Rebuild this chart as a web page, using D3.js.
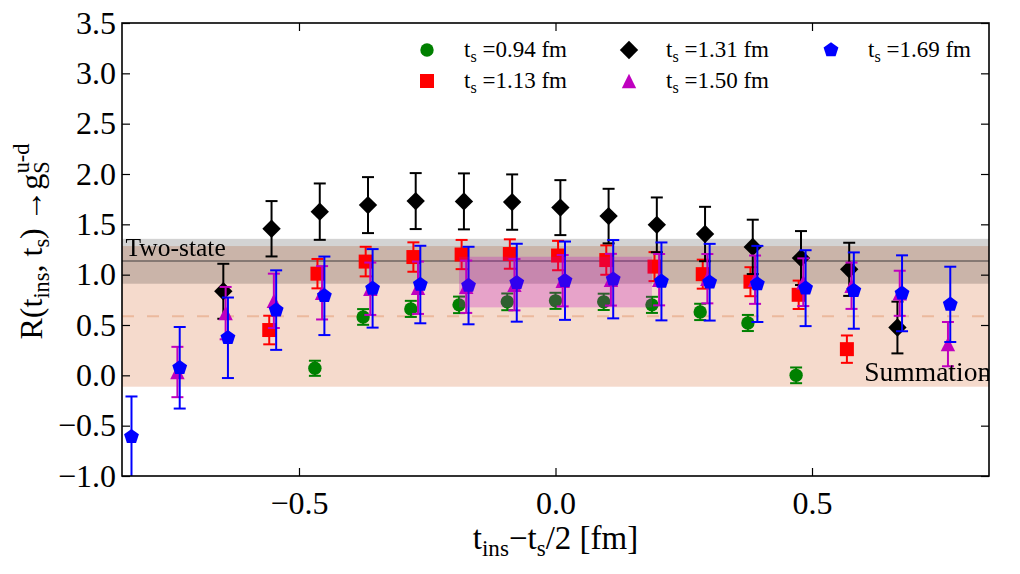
<!DOCTYPE html>
<html>
<head>
<meta charset="utf-8">
<script src="https://cdn.jsdelivr.net/npm/d3@7/dist/d3.min.js"></script>
<style>
body{margin:0;background:#fff}
svg{display:block}
text{font-family:"Liberation Serif",serif;fill:#000}
</style>
</head>
<body>
<svg id="chart" width="1020" height="574"></svg>
<script>
// source separations t_s [fm]
const tsLabels=["0.94","1.13","1.31","1.50","1.69"];

// t_ins - t_s/2 [fm], ratio, error — one set per t_s
const x094=[-0.469,-0.375,-0.282,-0.188,-0.094,0,0.094,0.188,0.282,0.375,0.469];
const y094=[0.07,0.58,0.66,0.70,0.73,0.74,0.73,0.70,0.63,0.52,0.00];
const e094=[0.075,0.078,0.080,0.082,0.083,0.080,0.081,0.080,0.081,0.080,0.078];

const x113=[-0.563,-0.469,-0.375,-0.282,-0.188,-0.094,0,0.094,0.188,0.282,0.375,0.469,0.563];
const y113=[0.45,1.01,1.13,1.175,1.20,1.205,1.19,1.145,1.08,1.005,0.93,0.80,0.26];
const e113=[0.142,0.146,0.147,0.146,0.145,0.146,0.146,0.146,0.144,0.144,0.144,0.141,0.136];

const x131=[-0.657,-0.563,-0.469,-0.375,-0.282,-0.188,-0.094,0,0.094,0.188,0.282,0.375,0.469,0.563,0.657];
const y131=[0.835,1.456,1.626,1.691,1.731,1.728,1.721,1.666,1.582,1.495,1.404,1.276,1.165,1.053,0.475];
const e131=[0.273,0.275,0.280,0.278,0.278,0.278,0.275,0.273,0.271,0.272,0.270,0.270,0.268,0.264,0.257];

const x150=[-0.751,-0.657,-0.563,-0.469,-0.375,-0.282,-0.188,-0.094,0,0.094,0.188,0.282,0.375,0.469,0.563,0.657,0.751];
const y150=[0.033,0.618,0.74,0.82,0.86,0.87,0.88,0.90,0.94,0.95,0.95,0.96,0.95,0.925,0.89,0.815,0.31];
const e150=[0.250,0.260,0.270,0.265,0.260,0.260,0.260,0.255,0.255,0.257,0.255,0.245,0.240,0.237,0.230,0.224,0.220];

const x169=[-0.845,-0.751,-0.657,-0.563,-0.469,-0.375,-0.282,-0.188,-0.094,0,0.094,0.188,0.282,0.375,0.469,0.563,0.657,0.751];
const y169=[-0.61,0.075,0.373,0.648,0.79,0.864,0.902,0.892,0.92,0.94,0.955,0.933,0.925,0.908,0.866,0.842,0.815,0.705];
const e169=[0.400,0.405,0.400,0.395,0.390,0.390,0.385,0.385,0.387,0.389,0.389,0.387,0.381,0.378,0.377,0.379,0.377,0.374];

// fit bands: [low, central, high]
const twoStateBand=[0.91,1.135,1.356];
const summationBand=[-0.113,0.586,1.284];
const plateauX=[-0.188,0.188];
const plateauY=[0.675,1.178];

const xTicks=[-0.5,0,0.5];
const yTicks=[-1,-0.5,0,0.5,1,1.5,2,2.5,3,3.5];

const W=1020,H=574,m={l:122,r:31,t:23,b:98};
const svg=d3.select("#chart");
const x=d3.scaleLinear().domain([-0.845,0.845]).range([m.l,W-m.r]);
const y=d3.scaleLinear().domain([-1,3.5]).range([H-m.b,m.t]);

const colors=["#008000","#ff0000","#000000","#bf00bf","#0000ff"];
const dodge=[0,0.005,0.0095,0.014,0.0185];

const pent=d3.lineRadial().curve(d3.curveLinearClosed)(d3.range(5).map(i=>[i*2*Math.PI/5,7.8]));
const shapes=[
  {d:d3.symbol(d3.symbolCircle,Math.PI*6.7*6.7)(),rot:0},
  {d:d3.symbol(d3.symbolSquare,14*14)(),rot:0},
  {d:d3.symbol(d3.symbolSquare,13*13)(),rot:45},
  {d:"M0,-7.2L7.2,7.2L-7.2,7.2Z",rot:0},
  {d:pent,rot:0}
];

const series=[[x094,y094,e094],[x113,y113,e113],[x131,y131,e131],[x150,y150,e150],[x169,y169,e169]]
  .map((s,i)=>s[0].map((xv,j)=>({x:xv+dodge[i],v:s[1][j],e:s[2][j]})));

svg.append("clipPath").attr("id","plotclip").append("rect")
  .attr("x",m.l).attr("y",m.t).attr("width",W-m.l-m.r).attr("height",H-m.t-m.b);
const plot=svg.append("g").attr("clip-path","url(#plotclip)");

// summation band
plot.append("rect").attr("x",m.l).attr("width",W-m.l-m.r)
  .attr("y",y(summationBand[2])).attr("height",y(summationBand[0])-y(summationBand[2]))
  .attr("fill","#f5dacc");
plot.append("line").attr("x1",m.l).attr("x2",W-m.r)
  .attr("y1",y(summationBand[1])).attr("y2",y(summationBand[1]))
  .attr("stroke","#ebb99d").attr("stroke-width",2).attr("stroke-dasharray","12,13");

// two-state band
plot.append("rect").attr("x",m.l).attr("width",W-m.l-m.r)
  .attr("y",y(twoStateBand[2])).attr("height",y(twoStateBand[0])-y(twoStateBand[2]))
  .attr("fill","#d3d3d3").style("mix-blend-mode","multiply");
plot.append("line").attr("x1",m.l).attr("x2",W-m.r)
  .attr("y1",y(twoStateBand[1])).attr("y2",y(twoStateBand[1]))
  .attr("stroke","#857873").attr("stroke-width",2);

// data points with error bars
series.forEach((pts,i)=>{
  const g=plot.append("g").attr("stroke",colors[i]).attr("fill",colors[i]);
  const eb=g.selectAll("g.eb").data(pts).join("g").attr("class","eb").attr("stroke-width",2);
  eb.append("line").attr("x1",d=>x(d.x)).attr("x2",d=>x(d.x)).attr("y1",d=>y(d.v-d.e)).attr("y2",d=>y(d.v+d.e));
  eb.append("line").attr("x1",d=>x(d.x)-6).attr("x2",d=>x(d.x)+6).attr("y1",d=>y(d.v+d.e)).attr("y2",d=>y(d.v+d.e));
  eb.append("line").attr("x1",d=>x(d.x)-6).attr("x2",d=>x(d.x)+6).attr("y1",d=>y(d.v-d.e)).attr("y2",d=>y(d.v-d.e));
  g.selectAll("path").data(pts).join("path").attr("stroke","none")
    .attr("d",shapes[i].d)
    .attr("transform",d=>`translate(${x(d.x)},${y(d.v)}) rotate(${shapes[i].rot})`);
});

// plateau fit band drawn on top
plot.append("rect").attr("x",x(plateauX[0])).attr("width",x(plateauX[1])-x(plateauX[0]))
  .attr("y",y(plateauY[1])).attr("height",y(plateauY[0])-y(plateauY[1]))
  .attr("fill","#bf00bf").attr("fill-opacity",0.25);

plot.append("text").attr("x",x(-0.838)).attr("y",y(1.185)).attr("font-size",25.5).text("Two-state");
plot.append("text").attr("x",x(0.602)).attr("y",y(-0.054)).attr("font-size",27.5).text("Summation");

// axes
function tidy(g){g.select(".domain").remove();g.selectAll(".tick line").attr("stroke","#000").attr("stroke-width",1.2);}
svg.append("g").attr("transform",`translate(${m.l},0)`)
  .call(d3.axisLeft(y).tickValues(yTicks).tickFormat(d3.format(".1f")).tickSizeInner(-8).tickSizeOuter(0).tickPadding(6))
  .call(tidy).selectAll("text").attr("font-size",32).attr("font-family","Liberation Serif");
svg.append("g").attr("transform",`translate(${W-m.r},0)`)
  .call(d3.axisRight(y).tickValues(yTicks).tickFormat("").tickSizeInner(-8).tickSizeOuter(0)).call(tidy);
svg.append("g").attr("transform",`translate(0,${H-m.b})`)
  .call(d3.axisBottom(x).tickValues(xTicks).tickFormat(d3.format(".1f")).tickSizeInner(-8).tickSizeOuter(0).tickPadding(15))
  .call(tidy).selectAll("text").attr("font-size",32).attr("font-family","Liberation Serif");
svg.append("g").attr("transform",`translate(0,${m.t})`)
  .call(d3.axisTop(x).tickValues(xTicks).tickFormat("").tickSizeInner(-8).tickSizeOuter(0)).call(tidy);
svg.append("rect").attr("x",m.l).attr("y",m.t).attr("width",W-m.l-m.r).attr("height",H-m.t-m.b)
  .attr("fill","none").attr("stroke","#000").attr("stroke-width",1.6);

// rich text: parts are [text, "sub"|"sup"|null, dx]
function rich(sel,parts,fs){
  let cur=0;
  parts.forEach(([t,k,dx])=>{
    const off=k==="sub"?0.22*fs:k==="sup"?-0.42*fs:0;
    const ts=sel.append("tspan").attr("font-size",k?fs*0.7:fs).attr("dy",off-cur).text(t);
    if(dx)ts.attr("dx",dx);
    cur=off;
  });
}

const xl=svg.append("text").attr("x",(m.l+W-m.r)/2).attr("y",549).attr("text-anchor","middle").attr("font-size",33);
rich(xl,[["t"],["ins","sub"],["\u2212t",null],["s","sub"],["/2 [fm]",null]],33);

const yl=svg.append("text").attr("transform",`translate(42,${(m.t+H-m.b)/2-8}) rotate(-90)`).attr("text-anchor","middle").attr("font-size",32);
rich(yl,[["R(t"],["ins","sub"],[", t",null],["s","sub"],[")\u2009\u2192g",null],["S","sub"],["u-d","sup",-12]],32);

// legend
const legCols=[427,629,831],legRows=[50,81];
tsLabels.forEach((lab,i)=>{
  const cx=legCols[Math.floor(i/2)],cy=legRows[i%2];
  svg.append("path").attr("d",shapes[i].d).attr("fill",colors[i])
    .attr("transform",`translate(${cx},${cy}) rotate(${shapes[i].rot})`);
  const t=svg.append("text").attr("x",cx+37).attr("y",cy+7).attr("font-size",23);
  rich(t,[["t"],["s","sub"],[" ="+lab+" fm",null]],23);
});
</script>
</body>
</html>
